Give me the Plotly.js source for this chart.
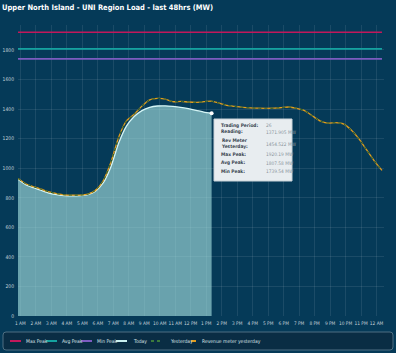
<!DOCTYPE html>
<html>
<head>
<meta charset="utf-8">
<script src="https://cdn.plot.ly/plotly-3.0.1.min.js"></script>
<style>
html,body{margin:0;padding:0;background:#053a58;}
#chart{width:396px;height:353px;}
</style>
</head>
<body>
<div id="chart"></div>
<script>
// ---- data ----
const periods = Array.from({length: 48}, (_, i) => i + 1);
const hourLabels = ["1 AM","2 AM","3 AM","4 AM","5 AM","6 AM","7 AM","8 AM","9 AM","10 AM","11 AM","12 PM",
                    "1 PM","2 PM","3 PM","4 PM","5 PM","6 PM","7 PM","8 PM","9 PM","10 PM","11 PM","12 AM"];
const todayLoad = [925, 888, 868, 850, 832, 822, 815, 813, 815, 822, 845, 900, 1010, 1170, 1285, 1350,
                   1390, 1412, 1421, 1422, 1418, 1412, 1403, 1392, 1380, 1371.905];
const revenueYesterday = [930, 895, 875, 858, 840, 828, 820, 818, 818, 824, 850, 915, 1040, 1210, 1320, 1365,
                          1420, 1462, 1472, 1468, 1450, 1452, 1448, 1446, 1450, 1454.522, 1440, 1425, 1418, 1412,
                          1408, 1406, 1405, 1406, 1410, 1414, 1405, 1390, 1355, 1320, 1305, 1308, 1300, 1260,
                          1200, 1125, 1050, 985];
const yesterdayLoad = [930, 895, 875, 858, 840, 828, 820, 818, 818, 824, 850, 915, 1040, 1210, 1320, 1365,
                       1420, 1462, 1472, 1468, 1450, 1452, 1448, 1446, 1450, 1454, 1440, 1425, 1418, 1412,
                       1408, 1406, 1405, 1406, 1410, 1414, 1405, 1390, 1355, 1320, 1305, 1308, 1300, 1260,
                       1200, 1125, 1050, 985];
const maxPeak = 1920.19;
const avgPeak = 1807.58;
const minPeak = 1739.54;
const currentPeriod = 26;
const legendNames = ["Max Peak","Avg Peak","Min Peak","Today","Yesterday","Revenue meter yesterday"];
const chartTitle = "Upper North Island - UNI Region Load - last 48hrs (MW)";

// ---- style ----
const FONT = "Liberation Sans Narrow, DejaVu Sans Condensed, Arial Narrow, sans-serif";
const BG = "#053a58";
const C_MAX = "#c2185b", C_AVG = "#14a3a0", C_MIN = "#7c5cc0", C_TODAY = "#d6f6f6",
      C_YEST = "#1f5e2c", C_REV = "#e39b1e";

const todayX = periods.slice(0, todayLoad.length);
const traces = [
  {x: periods, y: periods.map(() => maxPeak), name: legendNames[0], mode: "lines", line: {color: C_MAX, width: 1.6}},
  {x: periods, y: periods.map(() => avgPeak), name: legendNames[1], mode: "lines", line: {color: C_AVG, width: 1.6}},
  {x: periods, y: periods.map(() => minPeak), name: legendNames[2], mode: "lines", line: {color: C_MIN, width: 1.6}},
  {x: todayX, y: todayLoad, name: legendNames[3], mode: "lines", fill: "tozeroy",
   fillcolor: "rgba(172,232,230,0.6)", line: {color: C_TODAY, width: 1.3, shape: "spline", smoothing: 0.6}},
  {x: periods, y: revenueYesterday, name: legendNames[5], mode: "lines", line: {color: C_REV, width: 1.3, shape: "spline", smoothing: 0.6}},
  {x: periods, y: yesterdayLoad, name: legendNames[4], mode: "lines", line: {color: C_YEST, width: 1, dash: "dot", shape: "spline", smoothing: 0.6}},
  {x: [currentPeriod], y: [todayLoad[currentPeriod - 1]], mode: "markers", showlegend: false,
   marker: {color: "#ffffff", size: 4}}
];

// pixel helpers (plot area: x 18..384, y 25..316)
const L = 18, T = 25, W = 366, H = 291;
const px = v => (v - L) / W;
const py = v => (316 - v) / H;

const shapes = [];
const annotations = [];

// tooltip box
shapes.push({type: "rect", xref: "paper", yref: "paper", x0: px(214), x1: px(292), y0: py(181), y1: py(119),
  fillcolor: "#e8edf0", line: {color: "#c9d2d8", width: 1}, layer: "above"});
const tipRows = [
  ["Trading Period:", String(currentPeriod), 125.5],
  ["Reading:", todayLoad[currentPeriod - 1].toFixed(3) + " MW", 132],
  ["Rev Meter<br>Yesterday:", revenueYesterday[currentPeriod - 1].toFixed(3) + " MW", 144],
  ["Max Peak:", maxPeak.toFixed(2) + " MW", 154],
  ["Avg Peak:", avgPeak.toFixed(2) + " MW", 163],
  ["Min Peak:", minPeak.toFixed(2) + " MW", 171.5]
];
tipRows.forEach(r => {
  annotations.push({xref: "paper", yref: "paper", x: px(219), y: py(r[2]), xanchor: "left", yanchor: "middle",
    text: "<b>" + r[0] + "</b>", showarrow: false, align: "left",
    font: {family: FONT, size: 4.8, color: "#3a4650"}});
  annotations.push({xref: "paper", yref: "paper", x: px(264), y: py(r[2]), xanchor: "left", yanchor: "middle",
    text: r[1], showarrow: false, align: "left",
    font: {family: FONT, size: 4.8, color: "#8b969e"}});
});

// custom legend
shapes.push({type: "path", xref: "paper", yref: "paper", layer: "above",
  path: (() => {
    const x0 = 3, x1 = 393, y0 = 332, y1 = 350, r = 3;
    const X = v => px(v), Y = v => py(v);
    return `M ${X(x0 + r)} ${Y(y0)} L ${X(x1 - r)} ${Y(y0)} Q ${X(x1)} ${Y(y0)} ${X(x1)} ${Y(y0 + r)} ` +
      `L ${X(x1)} ${Y(y1 - r)} Q ${X(x1)} ${Y(y1)} ${X(x1 - r)} ${Y(y1)} L ${X(x0 + r)} ${Y(y1)} ` +
      `Q ${X(x0)} ${Y(y1)} ${X(x0)} ${Y(y1 - r)} L ${X(x0)} ${Y(y0 + r)} Q ${X(x0)} ${Y(y0)} ${X(x0 + r)} ${Y(y0)} Z`;
  })(),
  fillcolor: "#0a2d44", line: {color: "#4f6f82", width: 1}});
const legendItems = [
  {name: legendNames[0], color: C_MAX, s0: 10, s1: 21, t: 24},
  {name: legendNames[1], color: C_AVG, s0: 46, s1: 57, t: 60},
  {name: legendNames[2], color: C_MIN, s0: 81, s1: 92, t: 95},
  {name: legendNames[3], color: "#c9f0f0", s0: 116, s1: 127, t: 131},
  {name: legendNames[4], color: "#3c7a3c", s0: 151, s1: 162, t: 168, dash: "dot"},
  {name: legendNames[5], color: C_REV, s0: 191, s1: 196, t: 200}
];
legendItems.forEach(it => {
  shapes.push({type: "line", xref: "paper", yref: "paper", layer: "above",
    x0: px(it.s0), x1: px(it.s1), y0: py(341), y1: py(341),
    line: {color: it.color, width: 2, dash: it.dash || "solid"}});
  annotations.push({xref: "paper", yref: "paper", x: px(it.t), y: py(341), xanchor: "left", yanchor: "middle",
    text: it.name, showarrow: false, font: {family: FONT, size: 5, color: "#d8e2e8"}});
});

const tickvals = hourLabels.map((_, i) => 1.3 + 2 * i);

const layout = {
  width: 396, height: 353,
  paper_bgcolor: BG, plot_bgcolor: BG,
  margin: {l: L, r: 396 - L - W, t: T, b: 353 - 316},
  showlegend: false,
  title: {text: "<b>" + chartTitle + "</b>", x: 2 / 396, xanchor: "left", xref: "container",
          y: 1 - 7 / 353, yanchor: "middle", yref: "container",
          font: {family: FONT, size: 7.5, color: "#ffffff"}},
  xaxis: {range: [1, 48.26], tickvals: tickvals, ticktext: hourLabels, tickangle: 0, showgrid: true,
          gridcolor: "rgba(255,255,255,0.09)", gridwidth: 1, zeroline: false, showline: false,
          ticks: "", tickfont: {family: FONT, size: 4.8, color: "#c5d2da"}, ticklabelstandoff: 3, fixedrange: true},
  yaxis: {range: [0, 1969], dtick: 200, tick0: 0, showgrid: true, gridcolor: "rgba(255,255,255,0.09)",
          zeroline: false, showline: false, ticks: "", tickfont: {family: FONT, size: 5, color: "#c5d2da"},
          ticklabelstandoff: 3, fixedrange: true},
  shapes: shapes,
  annotations: annotations,
  hovermode: false
};

Plotly.newPlot("chart", traces, layout, {displayModeBar: false, staticPlot: true});
</script>
</body>
</html>
